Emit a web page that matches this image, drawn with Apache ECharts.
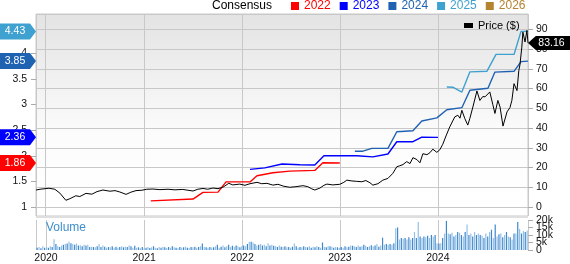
<!DOCTYPE html>
<html><head><meta charset="utf-8">
<script src="https://cdn.jsdelivr.net/npm/echarts@6/dist/echarts.min.js"></script>
<style>html,body{margin:0;padding:0;background:#fff}#c{width:570px;height:264px}</style>
</head><body><div id="c"></div>
<script>
const FONT = 'Arial, "Liberation Sans", Helvetica, sans-serif';
const axisStart = '2019-11-27';
const axisEnd = '2024-11-30';
const volStart = '2019-11-29';

const price = [
['2019-11-27',8.6],['2019-12-12',9.0],['2020-01-14',9.5],['2020-02-05',9.0],['2020-02-24',7.0],['2020-03-17',3.4],['2020-04-01',4.2],['2020-04-23',5.7],['2020-05-08',5.3],['2020-05-31',6.9],['2020-06-22',6.5],['2020-07-11',7.8],['2020-08-02',8.6],['2020-08-28',8.0],['2020-09-16',8.3],['2020-10-04',7.6],['2020-10-27',6.4],['2020-11-14',7.5],['2020-12-03',8.3],['2020-12-25',8.5],
['2021-01-12',9.0],['2021-02-04',9.1],['2021-03-02',8.8],['2021-04-01',9.0],['2021-04-27',8.7],['2021-05-26',8.9],['2021-06-14',8.5],['2021-07-03',8.1],['2021-07-21',9.0],['2021-08-09',9.4],['2021-08-27',9.0],['2021-09-15',9.6],['2021-10-04',9.3],['2021-10-22',10.0],['2021-11-13',12.0],['2021-11-28',11.2],['2021-12-24',11.6],
['2022-01-12',11.0],['2022-01-31',11.8],['2022-02-26',12.5],['2022-03-16',11.8],['2022-04-04',12.0],['2022-04-26',11.1],['2022-05-15',11.5],['2022-06-06',10.5],['2022-06-28',10.0],['2022-07-21',10.3],['2022-08-16',10.8],['2022-09-03',10.3],['2022-09-18',9.2],['2022-09-29',8.6],['2022-10-18',9.6],['2022-11-02',11.0],['2022-11-13',11.6],['2022-12-05',11.2],['2022-12-31',11.5],
['2023-01-15',12.5],['2023-01-26',13.6],['2023-02-14',13.2],['2023-03-04',13.0],['2023-03-23',12.8],['2023-04-07',13.4],['2023-04-22',12.3],['2023-05-03',11.1],['2023-05-22',11.8],['2023-06-09',13.6],['2023-06-28',14.5],['2023-07-16',17.0],['2023-07-31',20.4],['2023-08-11',20.9],['2023-08-23',21.5],['2023-09-06',23.0],['2023-09-18',22.0],['2023-09-29',25.0],['2023-10-14',24.0],['2023-10-25',22.4],['2023-11-05',27.0],['2023-11-20',26.5],['2023-12-01',27.5],['2023-12-12',29.3],['2023-12-27',27.7],
['2024-01-07',29.0],['2024-01-18',31.8],['2024-01-30',36.0],['2024-02-13',40.6],['2024-02-24',43.6],['2024-03-03',45.7],['2024-03-14',46.5],['2024-03-22',45.0],['2024-03-29',49.0],['2024-04-09',44.8],['2024-04-20',41.5],['2024-04-28',45.0],['2024-05-09',50.7],['2024-05-24',58.8],['2024-06-04',54.0],['2024-06-15',56.0],['2024-06-23',55.8],['2024-07-11',58.3],['2024-07-22',52.0],['2024-07-30',47.4],['2024-08-10',54.0],['2024-08-18',50.7],['2024-08-29',41.0],['2024-09-13',48.2],['2024-09-24',50.4],['2024-10-01',54.0],['2024-10-09',62.5],['2024-10-20',59.0],['2024-10-27',69.3],['2024-10-31',72.0],['2024-11-07',81.0],['2024-11-11',88.6],['2024-11-19',83.6],['2024-11-26',89.5],['2024-11-30',83.16]
];

const eps2022 = [['2021-01-27',1.12],['2021-07-03',1.155],['2021-08-09',1.285],['2021-10-04',1.29],['2021-11-03',1.49],['2022-01-31',1.49],['2022-02-26',1.61],['2022-04-26',1.67],['2022-06-28',1.70],['2022-09-29',1.715],['2022-10-29',1.865],['2022-12-31',1.86]];
const eps2023 = [['2022-01-31',1.735],['2022-03-27',1.765],['2022-05-30',1.84],['2022-08-05',1.825],['2022-09-29',1.82],['2022-11-02',2.0],['2023-03-04',2.0],['2023-05-03',1.98],['2023-06-28',2.035],['2023-07-31',2.275],['2023-09-29',2.275],['2023-11-01',2.365],['2023-12-31',2.36]];
const eps2024 = [['2023-02-25',2.09],['2023-03-27',2.09],['2023-04-29',2.145],['2023-06-28',2.145],['2023-07-31',2.47],['2023-09-29',2.49],['2023-11-01',2.68],['2023-12-27',2.74],['2024-02-02',2.90],['2024-03-29',2.94],['2024-04-28',3.28],['2024-07-04',3.32],['2024-07-30',3.635],['2024-10-09',3.65],['2024-11-04',3.84],['2024-11-30',3.85]];
const eps2025 = [['2024-02-02',3.345],['2024-02-24',3.34],['2024-03-29',3.245],['2024-04-28',3.64],['2024-06-30',3.65],['2024-08-03',3.98],['2024-10-09',3.98],['2024-11-04',4.43],['2024-11-30',4.43]];
const eps2026 = [];

// weekly volume, thousands
const vol2019 = [1.5,2,1.2,2.5,1.5];
const vol2020 = [2,1.5,2.5,2,7.2, 4,2.5,2,3, 3.5,4,4.3,5.5, 4.5,4,3.5,4.3, 3,3.2,2.5,3.5,3, 3.5,2,2.2,2, 1.8,2.5,4,2,3, 2.2,1.5,2,1.8, 2.5,1.5,2.2,1.5, 2,2.5,1.8,2.2,2, 3,2.5,1.5,2.8, 1.5,1.8,1.2,2];
const vol2021 = [1.2,1.5,2,1.3,1.8, 2.5,1.5,1.2,2, 1.5,2.2,1.8,1.3, 2,1.5,2.5,1.8,1.5, 1.2,2,1.6,1.8, 2.2,1.5,1.3,2, 1.8,2.2,1.5,2,2.5, 4.3,2,1.8,1.5, 2,1.6,1.8,2.4, 3.5,1.5,2.2,3,1.8, 2.5,3.5,2,2.8, 2.2,3,2.5,1.8,2.5];
const vol2022 = [3,2.5,4,5.5, 5.5,5,4,3, 3.5,4,3,3.5, 2.5,4.5,3,3.5,2.8, 2.5,2,3,2.2, 2,2.5,1.8,2, 1.5,2.2,4.3,2.5,1.5, 2,1.8,2.5,2, 1.8,2.5,1.5,2.2,1.8, 2.5,2,1.5,5, 2,1.8,2.5,2.5, 2.2,1.5,2,1.8,1.5];
const vol2023 = [2,1.5,2.5,1.8, 2.2,3,2.8,2.5, 2,3,2.2,2.5,3.5, 2.8,2,2.5,3.2, 2.5,3,4,2.2, 3,8.2,3.5,4,3.5, 4,3.5,4.5,14.5, 15,7,8,7.5, 8,7,8.5,7,8, 12,8,18.6,9, 8,9,8.5,9.5, 8,10,9,10,4.5];
const vol2024 = [4.3,4.5,8,11, 19.4,11,10.5,11.5, 9,10,12,11.5,10, 9,12,17,10, 11,9,12,10,11, 10,9.5,8,11, 9,12,13.5,8, 17,9,10.5,11,8.5, 10,12,9,8.5, 7,11,11,18.6, 14,11,12.7,12,13];

const colors = {c2022:'#ff0000', c2023:'#0000ff', c2024:'#1f62b2', c2025:'#3fa1d0', c2026:'#b5832f'};

const t = s => +new Date(s);
const volAll = [].concat(vol2019, vol2020, vol2021, vol2022, vol2023, vol2024);
const volData = volAll.map((v, i) => [t(volStart) + i * 7 * 86400000, v]);

function leftBadge(arr, color) {
  const last = arr[arr.length - 1][1];
  return {
    silent: true, symbol: 'path://M0,0L30,0L36,8L30,16L0,16Z', symbolSize: [36, 16], symbolOffset: [-18, 0],
    itemStyle: {color: color},
    label: {show: true, position: 'inside', color: '#fff', fontSize: 10.5, fontFamily: FONT, offset: [-3, 0], formatter: String(last)},
    data: [{coord: [t(axisStart), last], value: last}]
  };
}
function epsSeries(name, arr, color) {
  return {
    name: name, type: 'line', xAxisIndex: 2, yAxisIndex: 2, data: arr.map(d => [t(d[0]), d[1]]),
    showSymbol: false, color: color, lineStyle: {width: 1.4, color: color}, z: 3,
    markPoint: arr.length ? leftBadge(arr, color) : undefined
  };
}
const lastP = price[price.length - 1];
const gridCommon = {left: 36, right: 42};
const axisLbl = {fontSize: 10.5, color: '#111', fontFamily: FONT};
const volFmt = v => v === 0 ? '0' : v + 'k';

const chart = echarts.init(document.getElementById('c'));
chart.setOption({
  animation: false,
  textStyle: {fontFamily: FONT},
  title: [
    {text: 'Consensus', left: 212, top: 0, padding: 0, textStyle: {fontSize: 12, fontWeight: 'normal', color: '#000', fontFamily: FONT}},
    {text: 'Volume', left: 46, top: 222, padding: 0, textStyle: {fontSize: 12, fontWeight: 'normal', color: '#3d8fcf', fontFamily: FONT}}
  ],
  legend: [
    {left: 291, top: 0, padding: 0, icon: 'rect', itemWidth: 8, itemHeight: 8, itemGap: 9,
     textStyle: {fontSize: 12, fontFamily: FONT},
     data: [
       {name: '2022', textStyle: {color: colors.c2022}},
       {name: '2023', textStyle: {color: colors.c2023}},
       {name: '2024', textStyle: {color: colors.c2024}},
       {name: '2025', textStyle: {color: colors.c2025}},
       {name: '2026', textStyle: {color: colors.c2026}}
     ]},
    {left: 464, top: 20, padding: 0, icon: 'rect', itemWidth: 9, itemHeight: 5,
     textStyle: {fontSize: 11, color: '#000', fontFamily: FONT}, data: ['Price ($)']}
  ],
  grid: [
    Object.assign({top: 14, height: 202, show: true, borderColor: '#c8c8c8', borderWidth: 1,
      backgroundColor: {type: 'linear', x: 0, y: 0, x2: 0, y2: 1, colorStops: [{offset: 0, color: '#e3e3e3'}, {offset: 0.6, color: '#fcfcfc'}, {offset: 1, color: '#ffffff'}]}}, gridCommon),
    Object.assign({top: 14, height: 193}, gridCommon),
    Object.assign({top: 27.8, height: 179.2}, gridCommon),
    Object.assign({top: 220, height: 34}, gridCommon)
  ],
  xAxis: [
    {type: 'time', gridIndex: 0, min: t(axisStart), max: t(axisEnd), splitNumber: 5, axisLine: {show: false}, axisTick: {show: false}, axisLabel: {show: false}, splitLine: {show: true, lineStyle: {color: '#c8c8c8', width: 1}}},
    {type: 'time', gridIndex: 1, min: t(axisStart), max: t(axisEnd), show: false},
    {type: 'time', gridIndex: 2, min: t(axisStart), max: t(axisEnd), show: false},
    {type: 'time', gridIndex: 3, min: t(axisStart), max: t(axisEnd), splitNumber: 5, axisLine: {show: false}, axisTick: {show: false},
     axisLabel: Object.assign({margin: 3, formatter: '{yyyy}'}, axisLbl), splitLine: {show: true, lineStyle: {color: '#c8c8c8', width: 1}}}
  ],
  yAxis: [
    {type: 'value', gridIndex: 0, show: false, splitLine: {show: false}},
    {type: 'value', gridIndex: 1, position: 'right', min: 0, max: 97.8, interval: 10, axisLine: {show: false},
     axisTick: {show: true, length: 5, lineStyle: {color: '#aaa'}}, axisLabel: Object.assign({margin: 8, showMaxLabel: false, showMinLabel: true}, axisLbl),
     splitLine: {show: true, lineStyle: {color: '#c8c8c8', width: 1}}},
    {type: 'value', gridIndex: 2, position: 'left', min: 1, max: 4.5, interval: 0.5, axisLine: {show: false},
     axisTick: {show: true, length: 5, lineStyle: {color: '#aaa'}}, axisLabel: Object.assign({margin: 9, showMaxLabel: false, showMinLabel: true}, axisLbl),
     splitLine: {show: false}},
    {type: 'value', gridIndex: 3, position: 'right', min: 0, max: 20, interval: 5, axisLine: {show: false},
     axisTick: {show: true, length: 5, lineStyle: {color: '#aaa'}},
     axisLabel: Object.assign({margin: 8, showMinLabel: true, showMaxLabel: true, formatter: v => v % 10 === 0 ? volFmt(v) : ''}, axisLbl),
     splitLine: {show: false}},
    {type: 'value', gridIndex: 3, position: 'right', min: 0, max: 20, interval: 5, axisLine: {show: false},
     axisTick: {show: false},
     axisLabel: Object.assign({margin: 8, showMinLabel: true, showMaxLabel: true, formatter: v => v % 10 === 5 ? volFmt(v) : ''}, axisLbl),
     splitLine: {show: false}}
  ],
  graphic: [{type: 'rect', shape: {x: 36, y: 216, width: 492, height: 2}, style: {fill: '#dedede'}, silent: true}],
  series: [
    {name: 'Volume', type: 'bar', xAxisIndex: 3, yAxisIndex: 3, barWidth: 1.2, data: volData,
     itemStyle: {color: p => p.dataIndex % 2 ? '#94c0e6' : '#3f88cc'}},
    epsSeries('2022', eps2022, colors.c2022),
    epsSeries('2023', eps2023, colors.c2023),
    epsSeries('2024', eps2024, colors.c2024),
    epsSeries('2025', eps2025, colors.c2025),
    epsSeries('2026', eps2026, colors.c2026),
    {name: 'Price ($)', type: 'line', xAxisIndex: 1, yAxisIndex: 1, data: price.map(d => [t(d[0]), d[1]]), showSymbol: false, color: '#000',
     lineStyle: {width: 1, color: '#000'}, z: 4,
     markPoint: {silent: true, symbol: 'path://M0,8L8,0L44,0L44,16L8,16Z', symbolSize: [43, 14], symbolOffset: [21.5, 0],
       itemStyle: {color: '#000'}, label: {show: true, position: 'inside', color: '#fff', fontSize: 10.5, fontFamily: FONT, offset: [2, 0], formatter: String(lastP[1])},
       data: [{coord: [t(lastP[0]), lastP[1]], value: lastP[1]}]}}
  ]
});
</script></body></html>
